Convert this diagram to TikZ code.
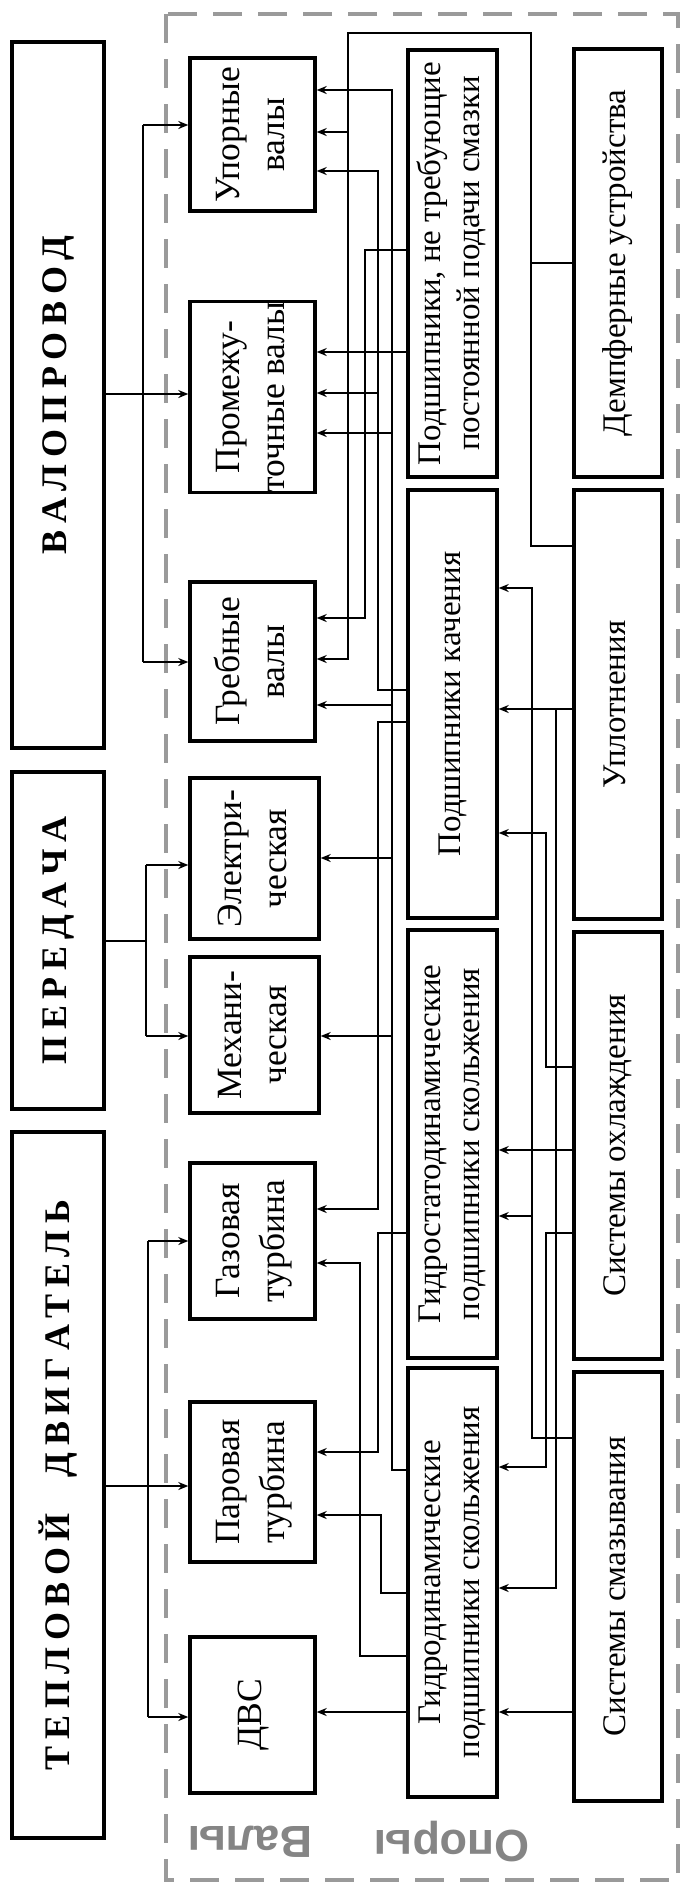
\documentclass[tikz,border=0pt]{standalone}
\usepackage{fontspec}
\setmainfont{Liberation Serif}
\newfontfamily\labfont{Liberation Sans}
\usepackage{graphicx}
\usetikzlibrary{arrows.meta}
\definecolor{dashgray}{HTML}{9A9A9A}
\definecolor{labgray}{HTML}{858585}
\newcommand\rt[1]{\rotatebox{90}{\begin{tabular}{@{}c@{}}#1\end{tabular}}}
\newcommand\ls{\kern6.6pt}
\begin{document}
\begin{tikzpicture}[x=1pt,y=-1pt,
  box/.style={draw, line width=3.4pt, inner sep=0pt, font=\fontsize{33}{39}\selectfont},
  sbox/.style={box, font=\fontsize{35.5}{45}\selectfont},
  ttl/.style={box, font=\fontsize{36}{40}\selectfont\bfseries},
  arr/.style={line width=1.5pt, -{Stealth[length=10pt,width=8pt]}},
  ln/.style={line width=1.5pt},
  lab/.style={text=labgray, font=\labfont\bfseries\fontsize{45}{50}\selectfont, rotate=180, inner sep=0pt}]
\useasboundingbox (0,0) rectangle (681,1885);
\draw[dashgray, line width=4pt, dash pattern=on 29pt off 16pt] (166,14) rectangle (678,1880);

% title boxes
\node[ttl, minimum width=92pt, minimum height=706pt] (valo) at (58,395) {\rotatebox{90}{В\ls А\ls Л\ls О\ls П\ls Р\ls О\ls В\ls О\ls Д}};
\node[ttl, minimum width=92pt, minimum height=337pt] (pered) at (58,940.5) {\rotatebox{90}{П\ls Е\ls Р\ls Е\ls Д\ls А\ls Ч\ls А}};
\node[ttl, minimum width=92pt, minimum height=706pt] (tepl) at (58,1485) {\rotatebox{90}{Т\ls Е\ls П\ls Л\ls О\ls В\ls О\ls Й\kern36pt Д\ls В\ls И\ls Г\ls А\ls Т\ls Е\ls Л\ls Ь}};

% shafts
\node[sbox, minimum width=125pt, minimum height=153pt] (upor) at (252.5,134.5) {\rt{Упорные\\валы}};
\node[sbox, minimum width=125pt, minimum height=190pt] (prom) at (252.5,397) {\rt{Промежу-\\точные валы}};
\node[sbox, minimum width=125pt, minimum height=159pt] (greb) at (252.5,661.5) {\rt{Гребные\\валы}};
\node[sbox, minimum width=129pt, minimum height=161pt] (elek) at (254.5,858.5) {\rt{Электри-\\ческая}};
\node[sbox, minimum width=129pt, minimum height=156pt] (meh) at (254.5,1035) {\rt{Механи-\\ческая}};
\node[sbox, minimum width=125pt, minimum height=156pt] (gaz) at (252.5,1241) {\rt{Газовая\\турбина}};
\node[sbox, minimum width=125pt, minimum height=160pt] (par) at (252.5,1482) {\rt{Паровая\\турбина}};
\node[sbox, minimum width=125pt, minimum height=156pt] (dvs) at (252.5,1715) {\rt{ДВС}};

% supports
\node[box, minimum width=89pt, minimum height=427pt] (pnt) at (452.5,263.5) {\rt{Подшипники, не требующие\\постоянной подачи смазки}};
\node[box, minimum width=89pt, minimum height=428pt] (pk) at (452.5,704) {\rt{Подшипники качения}};
\node[box, minimum width=89pt, minimum height=428pt] (gsd) at (452.5,1144) {\rt{Гидростатодинамические\\подшипники скольжения}};
\node[box, minimum width=89pt, minimum height=429pt] (gd) at (452.5,1582.5) {\rt{Гидродинамические\\подшипники скольжения}};

% systems
\node[box, minimum width=88pt, minimum height=428pt] (demp) at (618,263) {\rt{Демпферные устройства}};
\node[box, minimum width=88pt, minimum height=429pt] (upl) at (618,704.5) {\rt{Уплотнения}};
\node[box, minimum width=88pt, minimum height=427pt] (ohl) at (618,1145.5) {\rt{Системы охлаждения}};
\node[box, minimum width=88pt, minimum height=429pt] (smaz) at (618,1586.5) {\rt{Системы смазывания}};

% gray labels
\node[lab] (lv) at (250,1842) {Валы};
\node[lab] (lo) at (452,1842) {Опоры};

% title connectors
\coordinate (vb1) at (143,125); \coordinate (vb2) at (143,662);
\draw[arr] (valo.east |- 0,394) -- (prom.west |- 0,394);
\draw[ln] (vb1) -- (vb2);
\draw[arr] (vb1) -- (upor.west |- vb1);
\draw[arr] (vb2) -- (greb.west |- vb2);

\coordinate (pb1) at (146,865); \coordinate (pb2) at (146,1036);
\draw[ln] (pered.east |- 0,941) -- (pb1 |- 0,941);
\draw[ln] (pb1) -- (pb2);
\draw[arr] (pb1) -- (elek.west |- pb1);
\draw[arr] (pb2) -- (meh.west |- pb2);

\coordinate (tb1) at (148,1241); \coordinate (tb2) at (148,1717);
\draw[arr] (tepl.east |- 0,1486) -- (par.west |- 0,1486);
\draw[ln] (tb1) -- (tb2);
\draw[arr] (tb1) -- (gaz.west |- tb1);
\draw[arr] (tb2) -- (dvs.west |- tb2);

% left channel
\draw[ln] (demp.west |- 0,263) -- (531,263);
\draw[arr] (upl.west |- 0,546) -- (531,546) -- (531,33) -- (348,33) -- (348,659) -- (greb.east |- 0,659);
\draw[arr] (348,132) -- (upor.east |- 0,132);
\draw[arr] (pnt.west |- 0,352) -- (prom.east |- 0,352);
\draw[arr] (pnt.west |- 0,250) -- (365,250) -- (365,618) -- (greb.east |- 0,618);
\draw[arr] (pk.west |- 0,690) -- (378,690) -- (378,171) -- (upor.east |- 0,171);
\draw[arr] (378,393) -- (prom.east |- 0,393);
\draw[arr] (pk.west |- 0,722) -- (378,722) -- (378,1209) -- (gaz.east |- 0,1209);
\draw[arr] (gsd.west |- 0,1233) -- (378,1233) -- (378,1452) -- (par.east |- 0,1452);
\draw[arr] (gd.west |- 0,1470) -- (392,1470) -- (392,90) -- (upor.east |- 0,90);
\foreach \yy/\nn in {433/prom,705/greb,858/elek,1036/meh}
  \draw[arr] (392,\yy) -- (\nn.east |- 0,\yy);
\draw[arr] (gd.west |- 0,1593) -- (381,1593) -- (381,1515) -- (par.east |- 0,1515);
\draw[arr] (gd.west |- 0,1656) -- (360,1656) -- (360,1263) -- (gaz.east |- 0,1263);
\draw[arr] (gd.west |- 0,1712) -- (dvs.east |- 0,1712);

% right channel
\draw[arr] (smaz.west |- 0,1438) -- (532,1438) -- (532,588) -- (pk.east |- 0,588);
\draw[arr] (532,1216) -- (gsd.east |- 0,1216);
\draw[arr] (upl.west |- 0,709) -- (pk.east |- 0,709);
\draw[arr] (556,709) -- (556,1588) -- (gd.east |- 0,1588);
\draw[arr] (ohl.west |- 0,1067) -- (546,1067) -- (546,833) -- (pk.east |- 0,833);
\draw[arr] (ohl.west |- 0,1150) -- (gsd.east |- 0,1150);
\draw[arr] (ohl.west |- 0,1233) -- (546,1233) -- (546,1467) -- (gd.east |- 0,1467);
\draw[arr] (smaz.west |- 0,1712) -- (gd.east |- 0,1712);
\end{tikzpicture}
\end{document}
